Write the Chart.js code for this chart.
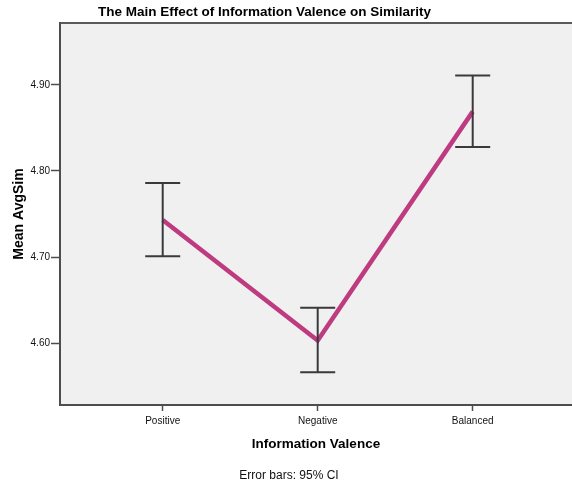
<!DOCTYPE html>
<html>
<head>
<meta charset="utf-8">
<script src="https://cdn.jsdelivr.net/npm/chart.js@4.4.1/dist/chart.umd.min.js"></script>
<style>
  html, body { margin: 0; padding: 0; background: #fff; }
  #wrap { width: 572px; height: 486px; }
</style>
</head>
<body>
<div id="wrap"><canvas id="c" width="572" height="486"></canvas></div>
<script>
// Mean AvgSim by information valence, with 95% confidence intervals
const categories = ['Positive', 'Negative', 'Balanced'];
const means = [4.743, 4.603, 4.869];
const ciLower = [4.701, 4.566, 4.828];
const ciUpper = [4.786, 4.641, 4.911];
const yTicks = [4.60, 4.70, 4.80, 4.90];

const FONT = "'Liberation Sans', Arial, sans-serif";

// Plot background and top frame line
const frame = {
  id: 'frame',
  beforeDraw(chart) {
    const { ctx, chartArea: a } = chart;
    ctx.save();
    ctx.fillStyle = '#f0f0f0';
    ctx.fillRect(a.left, a.top, a.right - a.left, a.bottom - a.top);
    ctx.strokeStyle = '#5a5a5a';
    ctx.lineWidth = 2;
    ctx.beginPath();
    ctx.moveTo(a.left, a.top);
    ctx.lineTo(a.right, a.top);
    ctx.stroke();
    ctx.restore();
  }
};

// Confidence interval whiskers with caps
const errorBars = {
  id: 'errorBars',
  afterDatasetsDraw(chart) {
    const { ctx, scales: { x, y } } = chart;
    ctx.save();
    ctx.strokeStyle = '#3a3a3a';
    ctx.lineWidth = 2;
    const cap = 17.5;
    categories.forEach((_, i) => {
      const px = x.getPixelForValue(i);
      const top = y.getPixelForValue(ciUpper[i]);
      const bot = y.getPixelForValue(ciLower[i]);
      ctx.beginPath();
      ctx.moveTo(px, top); ctx.lineTo(px, bot);
      ctx.moveTo(px - cap, top); ctx.lineTo(px + cap, top);
      ctx.moveTo(px - cap, bot); ctx.lineTo(px + cap, bot);
      ctx.stroke();
    });
    ctx.restore();
  }
};

// Chart heading and footnote
const texts = {
  id: 'texts',
  afterDraw(chart) {
    const { ctx } = chart;
    ctx.save();
    ctx.fillStyle = '#000';
    ctx.textAlign = 'center';
    ctx.textBaseline = 'middle';
    ctx.font = "bold 13.5px " + FONT;
    ctx.fillText('The Main Effect of Information Valence on Similarity', 264.5, 12.5);
    ctx.font = "12px " + FONT;
    ctx.fillStyle = '#111';
    ctx.fillText('Error bars: 95% CI', 289, 475.5);
    ctx.restore();
  }
};

new Chart(document.getElementById('c'), {
  type: 'line',
  data: {
    datasets: [{
      data: means.map((v, i) => ({ x: i, y: v })),
      borderColor: '#be3b80',
      borderWidth: 4.5,
      pointRadius: 0,
      tension: 0,
      fill: false
    }]
  },
  options: {
    responsive: false,
    animation: false,
    layout: { padding: { top: 23, left: 0, right: 0, bottom: 0 } },
    plugins: { legend: { display: false }, tooltip: { enabled: false }, title: { display: false } },
    scales: {
      x: {
        type: 'linear',
        min: -0.6626,
        max: 2.6406,
        afterFit(s) { s.height = 81; },
        afterBuildTicks(s) { s.ticks = categories.map((_, i) => ({ value: i })); },
        ticks: {
          callback: (v) => categories[v],
          font: { family: FONT, size: 10 },
          color: '#111',
          padding: 4,
          maxRotation: 0
        },
        grid: { drawOnChartArea: false, drawTicks: true, tickLength: 6, tickColor: '#4d4d4d', tickWidth: 1.5 },
        border: { display: true, color: '#4d4d4d', width: 2 },
        title: {
          display: true,
          text: 'Information Valence',
          font: { family: FONT, size: 13.5, weight: 'bold' },
          color: '#000',
          padding: { top: 0, bottom: 34 }
        }
      },
      y: {
        min: 4.528,
        max: 4.972,
        afterFit(s) { s.width = 60; },
        afterBuildTicks(s) { s.ticks = yTicks.map(v => ({ value: v })); },
        ticks: {
          callback: (v) => v.toFixed(2),
          font: { family: FONT, size: 10 },
          color: '#111',
          padding: 1
        },
        grid: { drawOnChartArea: false, drawTicks: true, tickLength: 9, tickColor: '#4d4d4d', tickWidth: 1.5 },
        border: { display: true, color: '#4d4d4d', width: 2 },
        title: {
          display: true,
          text: 'Mean AvgSim',
          font: { family: FONT, size: 14, weight: 'bold' },
          color: '#000',
          padding: { top: 11, bottom: 0 }
        }
      }
    }
  },
  plugins: [frame, errorBars, texts]
});
</script>
</body>
</html>
